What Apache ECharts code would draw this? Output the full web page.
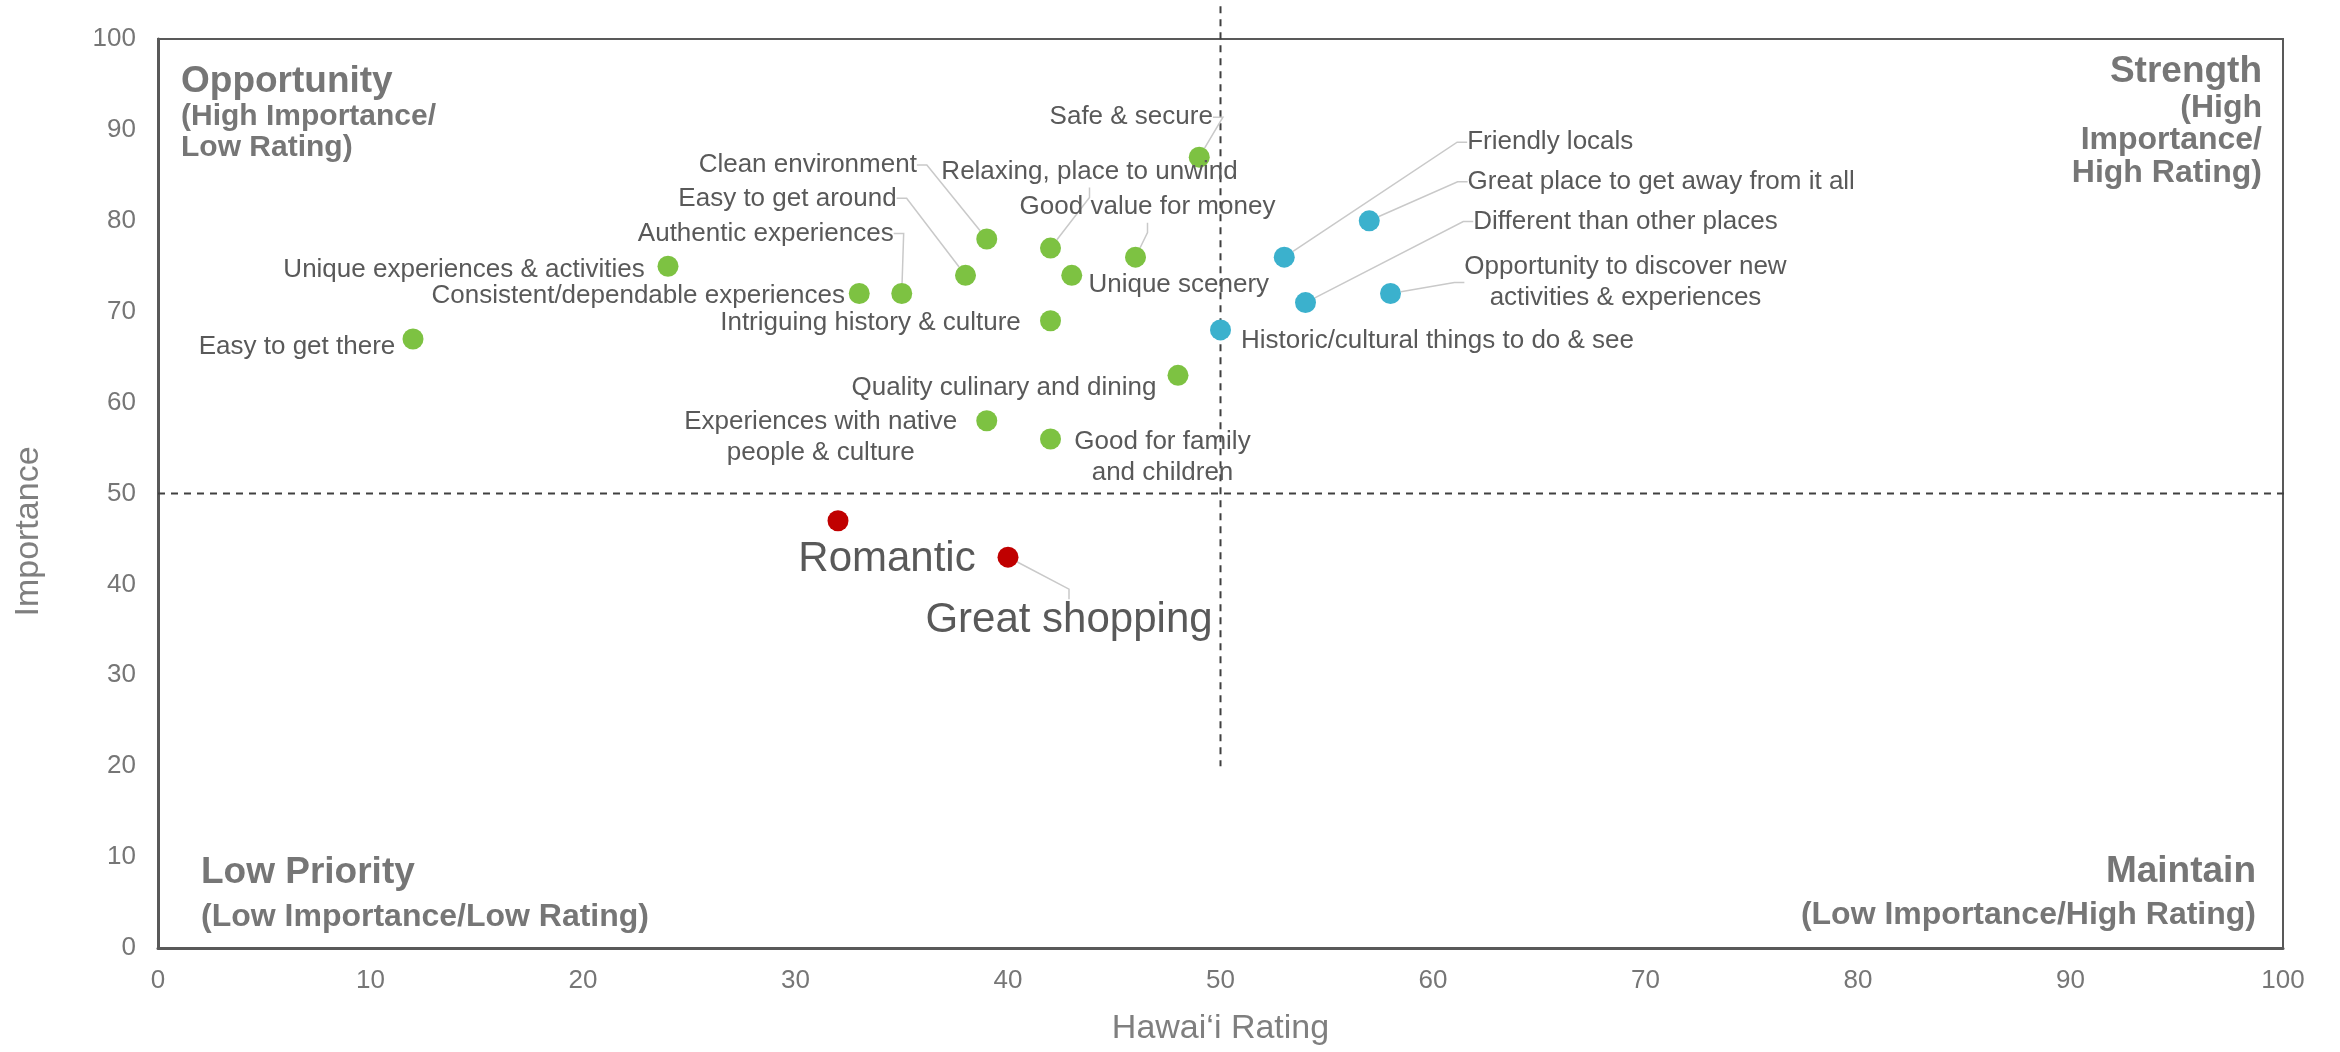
<!DOCTYPE html>
<html>
<head>
<meta charset="utf-8">
<title>Hawai'i Importance vs Rating</title>
<script src="https://cdn.jsdelivr.net/npm/echarts@6/dist/echarts.min.js"></script>
<style>
html, body { margin: 0; padding: 0; background: #fff; }
#main { width: 2340px; height: 1052px; }
</style>
</head>
<body>
<div id="main"></div>
<script>
// opportunity group (green)
var greenNames = ['Easy to get there', 'Unique experiences & activities', 'Consistent/dependable experiences',
	'Authentic experiences', 'Easy to get around', 'Clean environment', 'Relaxing, place to unwind',
	'Unique scenery', 'Good value for money', 'Safe & secure', 'Intriguing history & culture',
	'Quality culinary and dining', 'Experiences with native\npeople & culture', 'Good for family\nand children'];
var greenRating = [12, 24, 33, 35, 38, 39, 42, 43, 46, 49, 42, 48, 39, 42];
var greenImportance = [67, 75, 72, 72, 74, 78, 77, 74, 76, 87, 69, 63, 58, 56];

// strength group (blue)
var blueNames = ['Historic/cultural things to do & see', 'Friendly locals', 'Great place to get away from it all',
	'Different than other places', 'Opportunity to discover new\nactivities & experiences'];
var blueRating = [50, 53, 57, 54, 58];
var blueImportance = [68, 76, 80, 71, 72];

// low priority group (red)
var redNames = ['Romantic', 'Great shopping'];
var redRating = [32, 40];
var redImportance = [47, 43];

// axis ticks
var axisMin = 0, axisMax = 100, axisStep = 10;

// quadrant divider lines (dashed)
var vLine = [[50, 103.6], [50, 20]];
var hLine = [[0, 50], [103, 50]];

// label offset from the dot centre, px
var labelOffset = {
	'Easy to get there': [-116, 8],
	'Unique experiences & activities': [-204, 4],
	'Consistent/dependable experiences': [-221, 2],
	'Authentic experiences': [-136, -60],
	'Easy to get around': [-178, -77],
	'Clean environment': [-179, -74],
	'Relaxing, place to unwind': [39, -76],
	'Unique scenery': [107, 9],
	'Good value for money': [12, -50],
	'Safe & secure': [-68, -40],
	'Intriguing history & culture': [-180, 2],
	'Quality culinary and dining': [-174, 12],
	'Experiences with native\npeople & culture': [-166, 17],
	'Good for family\nand children': [112, 18],
	'Historic/cultural things to do & see': [217, 11],
	'Friendly locals': [266, -115],
	'Great place to get away from it all': [292, -39],
	'Different than other places': [320, -81],
	'Opportunity to discover new\nactivities & experiences': [235, -11],
	'Romantic': [49, 39],
	'Great shopping': [61, 63]
};
// labels that have a leader line
var leaderNames = ['Authentic experiences', 'Easy to get around', 'Clean environment', 'Relaxing, place to unwind',
	'Good value for money', 'Safe & secure', 'Friendly locals', 'Great place to get away from it all',
	'Different than other places', 'Opportunity to discover new\nactivities & experiences', 'Great shopping'];
var bigLabelNames = ['Romantic', 'Great shopping'];

var FONT = '"Liberation Sans", Arial, Helvetica, sans-serif';

function buildData(names, xs, ys) {
	var arr = [];
	for (var i = 0; i < names.length; i++) {
		var item = {
			name: names[i],
			value: [xs[i], ys[i]],
			labelLine: { show: leaderNames.indexOf(names[i]) >= 0 }
		};
		if (bigLabelNames.indexOf(names[i]) >= 0) {
			item.label = { fontSize: 42 };
		}
		arr.push(item);
	}
	return arr;
}

function scatterSeries(name, color, data) {
	return {
		name: name,
		type: 'scatter',
		symbol: 'circle',
		symbolSize: 21,
		itemStyle: { color: color, opacity: 1 },
		data: data,
		z: 3,
		label: {
			show: true,
			position: 'inside',
			formatter: '{b}',
			align: 'center',
			verticalAlign: 'middle',
			color: '#595959',
			fontSize: 26,
			lineHeight: 31,
			fontFamily: FONT
		},
		labelLine: {
			show: false,
			length2: 10,
			lineStyle: { color: '#c9c9c9', width: 1.5 }
		},
		labelLayout: function (params) {
			var off = labelOffset[params.text] || [0, 0];
			return { dx: off[0], dy: off[1] };
		},
		emphasis: { disabled: true }
	};
}

function dashSeries(data) {
	return {
		type: 'line',
		data: data,
		showSymbol: false,
		symbol: 'none',
		clip: false,
		silent: true,
		z: 2,
		lineStyle: { color: '#404040', width: 2, type: [7, 6] }
	};
}

var chart = echarts.init(document.getElementById('main'));

var quadText = function (text, x, y, size, align) {
	return {
		type: 'text',
		x: x,
		y: y,
		silent: true,
		style: {
			text: text,
			fill: '#767676',
			font: 'bold ' + size + 'px ' + FONT,
			align: align,
			verticalAlign: 'middle'
		}
	};
};

var option = {
	animation: false,
	backgroundColor: '#ffffff',
	grid: {
		left: 158, right: 57, top: 39, bottom: 104,
		show: true,
		borderColor: '#595959',
		borderWidth: 2
	},
	xAxis: {
		type: 'value',
		min: axisMin, max: axisMax, interval: axisStep,
		name: 'Hawai\u2018i Rating',
		nameLocation: 'middle',
		nameGap: 64,
		nameTextStyle: { color: '#7f7f7f', fontSize: 34, fontFamily: FONT },
		axisLine: { show: true, lineStyle: { color: '#595959', width: 3 } },
		axisTick: { show: false },
		splitLine: { show: false },
		axisLabel: { color: '#767676', fontSize: 26, fontFamily: FONT, margin: 20 }
	},
	yAxis: {
		type: 'value',
		min: axisMin, max: axisMax, interval: axisStep,
		name: 'Importance',
		nameLocation: 'middle',
		nameGap: 112,
		nameTextStyle: { color: '#7f7f7f', fontSize: 34, fontFamily: FONT, padding: [0, 76, 0, 0] },
		axisLine: { show: true, lineStyle: { color: '#595959', width: 3 } },
		axisTick: { show: false },
		splitLine: { show: false },
		axisLabel: { color: '#767676', fontSize: 26, fontFamily: FONT, margin: 22 }
	},
	series: [
		dashSeries(vLine),
		dashSeries(hLine),
		scatterSeries('Opportunity', '#7dc242', buildData(greenNames, greenRating, greenImportance)),
		scatterSeries('Strength', '#3bb1cd', buildData(blueNames, blueRating, blueImportance)),
		scatterSeries('Low Priority', '#c00000', buildData(redNames, redRating, redImportance))
	],
	graphic: [
		quadText('Opportunity', 181, 82, 37, 'left'),
		quadText('(High Importance/', 181, 117, 30, 'left'),
		quadText('Low Rating)', 181, 148, 30, 'left'),
		quadText('Strength', 2262, 72, 37, 'right'),
		quadText('(High', 2262, 108, 32, 'right'),
		quadText('Importance/', 2262, 140, 32, 'right'),
		quadText('High Rating)', 2262, 173, 32, 'right'),
		quadText('Low Priority', 201, 873, 37, 'left'),
		quadText('(Low Importance/Low Rating)', 201, 917, 32, 'left'),
		quadText('Maintain', 2256, 872, 37, 'right'),
		quadText('(Low Importance/High Rating)', 2256, 915, 32, 'right')
	]
};
chart.setOption(option);
</script>
</body>
</html>
